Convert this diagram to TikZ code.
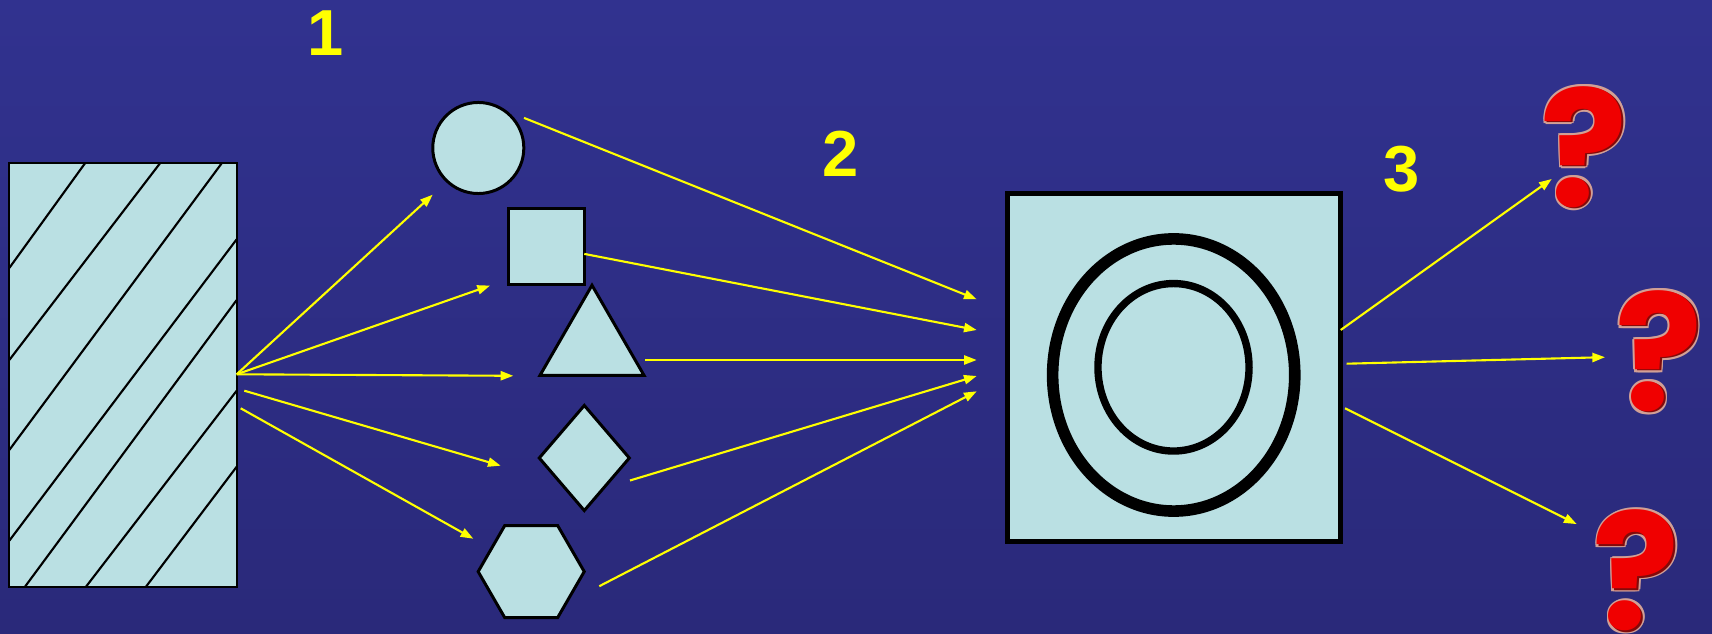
\documentclass[tikz,border=0pt]{standalone}
\usepackage{fontspec}
\setmainfont{Liberation Sans}
\newfontfamily\qfont{Poppins}
\usetikzlibrary{shapes.geometric,arrows.meta}
\definecolor{bgtop}{RGB}{49,50,143}
\definecolor{bgbot}{RGB}{42,41,122}
\definecolor{lblue}{RGB}{186,224,227}
\definecolor{qred}{RGB}{240,0,0}
\definecolor{qedge}{RGB}{210,160,150}
\definecolor{qdark}{RGB}{130,10,10}
\definecolor{ylw}{RGB}{255,255,0}
\tikzset{
  shp/.style={draw=black, fill=lblue, line width=0.85pt, inner sep=0pt, outer sep=0pt},
  conn/.style={draw=ylw, line width=0.6pt, -{Triangle[length=3.6pt,width=2.6pt]}},
  num/.style={text=ylw, font=\bfseries\fontsize{18.5}{20}\selectfont, inner sep=0pt, anchor=base},
  qm/.style={font=\qfont\bfseries\fontsize{46}{50}\selectfont, inner sep=0pt, anchor=base},
  hatch/.style={draw=black, line width=0.6pt},
}
\newcommand\qmarkat[3]{%
  \foreach \dx/\dy in {-2/-2,0/-2.5,2/-2,2.5/0,2/2,0/2.5,-2/2,-2.5/0}
    {\node[qm,text=qedge] at ([shift={(\dx,\dy)}]#2,#3) {?};}
  \node[qm,text=qdark] at ([shift={(1,1)}]#2,#3) {?};
  \node[qm,text=qred] (#1) at ([shift={(-0.6,-0.6)}]#2,#3) {?};
}
\begin{document}
\begin{tikzpicture}[x=0.01cm,y=-0.01cm]
\useasboundingbox (0,0) rectangle (1712,634);
\shade[top color=bgtop,bottom color=bgbot] (0,0) rectangle (1712,634);

% source block with hatching
\node[shp, line width=0.7pt, minimum width=22.74mm, minimum height=42.34mm] (blk) at (123,375) {};
\draw[hatch] (9.3,268) -- (85,163.3);
\draw[hatch] (9.3,360) -- (160,163.3);
\draw[hatch] (9.3,450) -- (221.7,163.3);
\draw[hatch] (9.3,540.7) -- (236.7,239.3);
\draw[hatch] (25,586.7) -- (236.7,300);
\draw[hatch] (86,586.7) -- (236.7,390.7);
\draw[hatch] (146,586.7) -- (236.7,466.7);

% shapes
\node[shp, circle, minimum size=9.1mm] (circ) at (478.3,148) {};
\node[shp, rectangle, minimum size=7.6mm] (sq) at (546.3,246.5) {};
\node[shp, regular polygon, regular polygon sides=3, minimum size=12mm] (tri) at (592,345.3) {};
\node[shp, diamond, minimum width=9mm, minimum height=10.5mm] (dia) at (584.3,458) {};
\node[shp, regular polygon, regular polygon sides=6, minimum size=10.6mm] (hex) at (531.2,571.6) {};

% main box
\node[shp, line width=1.5pt, minimum width=33.3mm, minimum height=34.8mm] (box) at (1174.2,367.7) {};
\node[draw=black, line width=3.3pt, ellipse, minimum width=24.2mm, minimum height=27.2mm, inner sep=0pt] (oell) at (1173.7,375) {};
\node[draw=black, line width=2.1pt, ellipse, minimum width=15.1mm, minimum height=16.74mm, inner sep=0pt] (iell) at (1173.5,367.3) {};

% labels
\node[num] (n1) at (326,56) {1};
\node[num] (n2) at (841,176.5) {2};
\node[num] (n3) at (1401.7,192) {3};

% question marks
\qmarkat{q1}{1585}{207}
\qmarkat{q2}{1659.7}{411}
\qmarkat{q3}{1637}{630}

% connector end points
\coordinate (s0) at (236.7,374.3);
\coordinate (s4) at (244.3,390.7);
\coordinate (s5) at (240.7,408.3);
\coordinate (t1) at (432.7,194.7);
\coordinate (t2) at (490,285.6);
\coordinate (t3) at (513.3,375.8);
\coordinate (t4) at (500.7,465.7);
\coordinate (t5) at (473.3,538.7);

\coordinate (u1) at (524,117.9);
\coordinate (u2) at (584.3,253.9);
\coordinate (u3) at (645,360);
\coordinate (u4) at (630,480.5);
\coordinate (u5) at (599.3,586.2);
\coordinate (v1) at (976.7,299.3);
\coordinate (v2) at (976.7,330);
\coordinate (v3) at (976.7,360);
\coordinate (v4) at (976.7,376);
\coordinate (v5) at (976.7,391.3);

\coordinate (w1) at (1340.7,330);
\coordinate (w2) at (1346.7,363.7);
\coordinate (w3) at (1345,408.3);
\coordinate (x1) at (1551.7,179);
\coordinate (x2) at (1605,357.2);
\coordinate (x3) at (1576.7,524.1);

% connectors
\draw[conn] (s0) -- (t1);
\draw[conn] (s0) -- (t2);
\draw[conn] (s0) -- (t3);
\draw[conn] (s4) -- (t4);
\draw[conn] (s5) -- (t5);
\draw[conn] (u1) -- (v1);
\draw[conn] (u2) -- (v2);
\draw[conn] (u3) -- (v3);
\draw[conn] (u4) -- (v4);
\draw[conn] (u5) -- (v5);
\draw[conn] (w1) -- (x1);
\draw[conn] (w2) -- (x2);
\draw[conn] (w3) -- (x3);
\end{tikzpicture}
\end{document}
